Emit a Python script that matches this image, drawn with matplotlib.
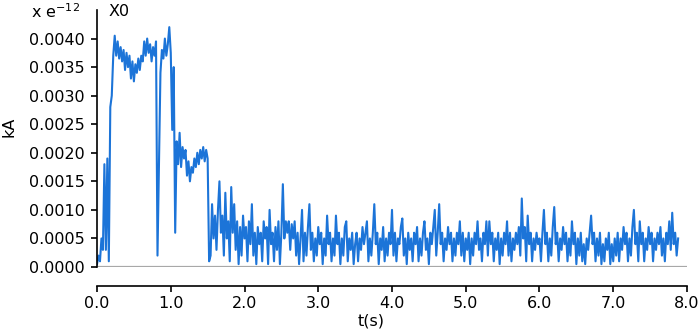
"""
Current trace X0 (kA, x e-12) against time
"""

import matplotlib
matplotlib.use('Agg')
import matplotlib.pyplot as plt
import numpy as np

DT = 0.02          # sample step in seconds
UNIT = 1e-4        # values below are typed in units of 0.0001 kA

# rise + first plateau, t = 0.00 .. 0.80
rise = [0.5, 2, 1, 5, 3, 18, 3, 19, 1, 28]
plateau_hi = [30, 37, 40.5, 37, 39.5, 36.5, 38.5, 36, 38, 34.5, 37.5, 35, 37, 33,
              36, 32.5, 35.5, 34, 36.5, 34.5, 37, 36, 39.5, 37, 40, 37.5, 39,
              36, 38.5, 37, 39.5]
# short drop and second part of plateau, t = 0.82 .. 1.00
dip_1 = [2, 18, 34, 38, 36.5, 40, 37, 39, 42, 37.5]
# mid level, t = 1.02 .. 1.52
plateau_mid = [24, 35, 6, 22, 18, 23.5, 17.5, 21, 19, 20.5, 16, 18.5, 15, 17.5,
               16.5, 19, 17.5, 20, 18, 20.5, 19, 21, 18.5, 20.5, 19, 1]
# noisy tail, t = 1.54 .. 7.88
tail = [
    2, 11, 5, 9, 3, 10, 15, 6, 9, 2, 13, 5, 8, 1, 14, 6, 11, 3, 8, 0.5, 7, 2, 9, 5, 7,
    1, 8, 4, 11, 2, 6, 0.5, 7, 4, 6, 1, 8, 5, 7, 0.5, 10, 4, 6, 1, 7, 3, 8, 0.5, 6, 14.5,
    5, 8, 6, 8, 3, 7.5, 5, 8, 2, 6, 0.5, 5, 10, 1, 6, 2, 7, 11, 3, 6, 1, 5, 2, 7, 4,
    6, 0.5, 5, 2, 9, 4, 6, 1, 5, 2, 9, 4, 6, 0.5, 5, 2, 7, 8, 1, 5, 3, 6, 0.5, 4, 6,
    1, 5, 3, 7, 4, 6, 8, 1, 5, 2, 6, 11, 4, 6, 0.5, 5, 3, 7, 1, 5, 2, 6, 4, 10, 2,
    6, 1, 5, 4, 7, 8.5, 2, 5, 0.5, 6, 3, 5, 1, 6, 4, 7, 1, 5, 2, 6, 8, 3, 5, 0.5, 6,
    4, 7, 10, 2, 6, 11, 4, 6, 1, 5, 3, 7, 4, 6, 1, 5, 2, 6, 4, 8, 2, 6, 1, 5, 3,
    6, 0.5, 5, 2, 6, 4, 8, 3, 5, 1, 6, 4, 8, 2, 8, 4, 6, 1, 5, 3, 6, 0.5, 5, 2, 6,
    4, 8, 2, 6, 1, 5, 3, 6, 4, 7, 2, 12, 5, 7, 1, 9, 4, 6, 1, 5, 3, 6, 4, 5, 1,
    6, 10, 4, 6, 1, 5, 2, 7, 10.5, 4, 6, 1, 5, 3, 7, 4, 6, 1, 5, 2, 8, 4, 6, 0.5, 5,
    2, 6, 1, 4, 0.5, 5, 3, 6, 9, 4, 6, 1, 5, 2, 6, 0.5, 4, 1, 5, 3, 6, 0.5, 4, 1, 5,
    2, 6, 1, 5, 3, 7, 4, 6, 1, 5, 2, 7, 10, 4, 6, 1, 8, 4, 6, 1, 5, 3, 7, 4, 6,
    1, 5, 3, 6, 4, 7, 2, 5, 1, 6, 4, 8, 3, 9.5, 4, 6, 2, 5,
]

Y_TICKS = [0.0, 0.0005, 0.0010, 0.0015, 0.0020, 0.0025, 0.0030, 0.0035, 0.0040]
X_TICKS = [0, 1, 2, 3, 4, 5, 6, 7, 8]

LINE_COLOR = '#1c74d8'

values = np.array(rise + plateau_hi + dip_1 + plateau_mid + tail) * UNIT
t = np.arange(len(values)) * DT

plt.rcParams['font.family'] = 'DejaVu Sans'
plt.rcParams['font.size'] = 11.5

fig = plt.figure(figsize=(6.99, 3.30), dpi=100)
ax = fig.add_axes([0.1388, 0.1909, 0.8440, 0.7788])

ax.axhline(0, color='#a8a8a8', lw=1.6, zorder=1)
ax.plot(t, values, color=LINE_COLOR, lw=1.5, zorder=2)

ax.set_xlim(0, 8)
ax.set_ylim(0, 0.0045)
ax.set_yticks(Y_TICKS)
ax.set_yticklabels(['%.4f' % v for v in Y_TICKS])
ax.set_xticks(X_TICKS)
ax.set_xticklabels(['%.1f' % v for v in X_TICKS])

for s in ['top', 'right']:
    ax.spines[s].set_visible(False)
ax.spines['bottom'].set_position(('outward', 14))
ax.spines['left'].set_linewidth(1.2)
ax.spines['bottom'].set_linewidth(1.2)
ax.tick_params(axis='both', length=4, width=1.2, pad=3)
ax.tick_params(axis='y', pad=5)

fig.text(80 / 699, 1 - 12 / 330, 'x e$^{-12}$', ha='right', va='center', fontsize=11.5)
fig.text(109 / 699, 1 - 12 / 330, 'X0', ha='left', va='center', fontsize=11.5)
fig.text(9 / 699, 1 - 127 / 330, 'kA', ha='center', va='center', rotation=90, fontsize=11.5)
fig.text(371 / 699, 1 - 321 / 330, 't(s)', ha='center', va='center', fontsize=11.5)

plt.savefig('out.png', dpi=100)
plt.close()
